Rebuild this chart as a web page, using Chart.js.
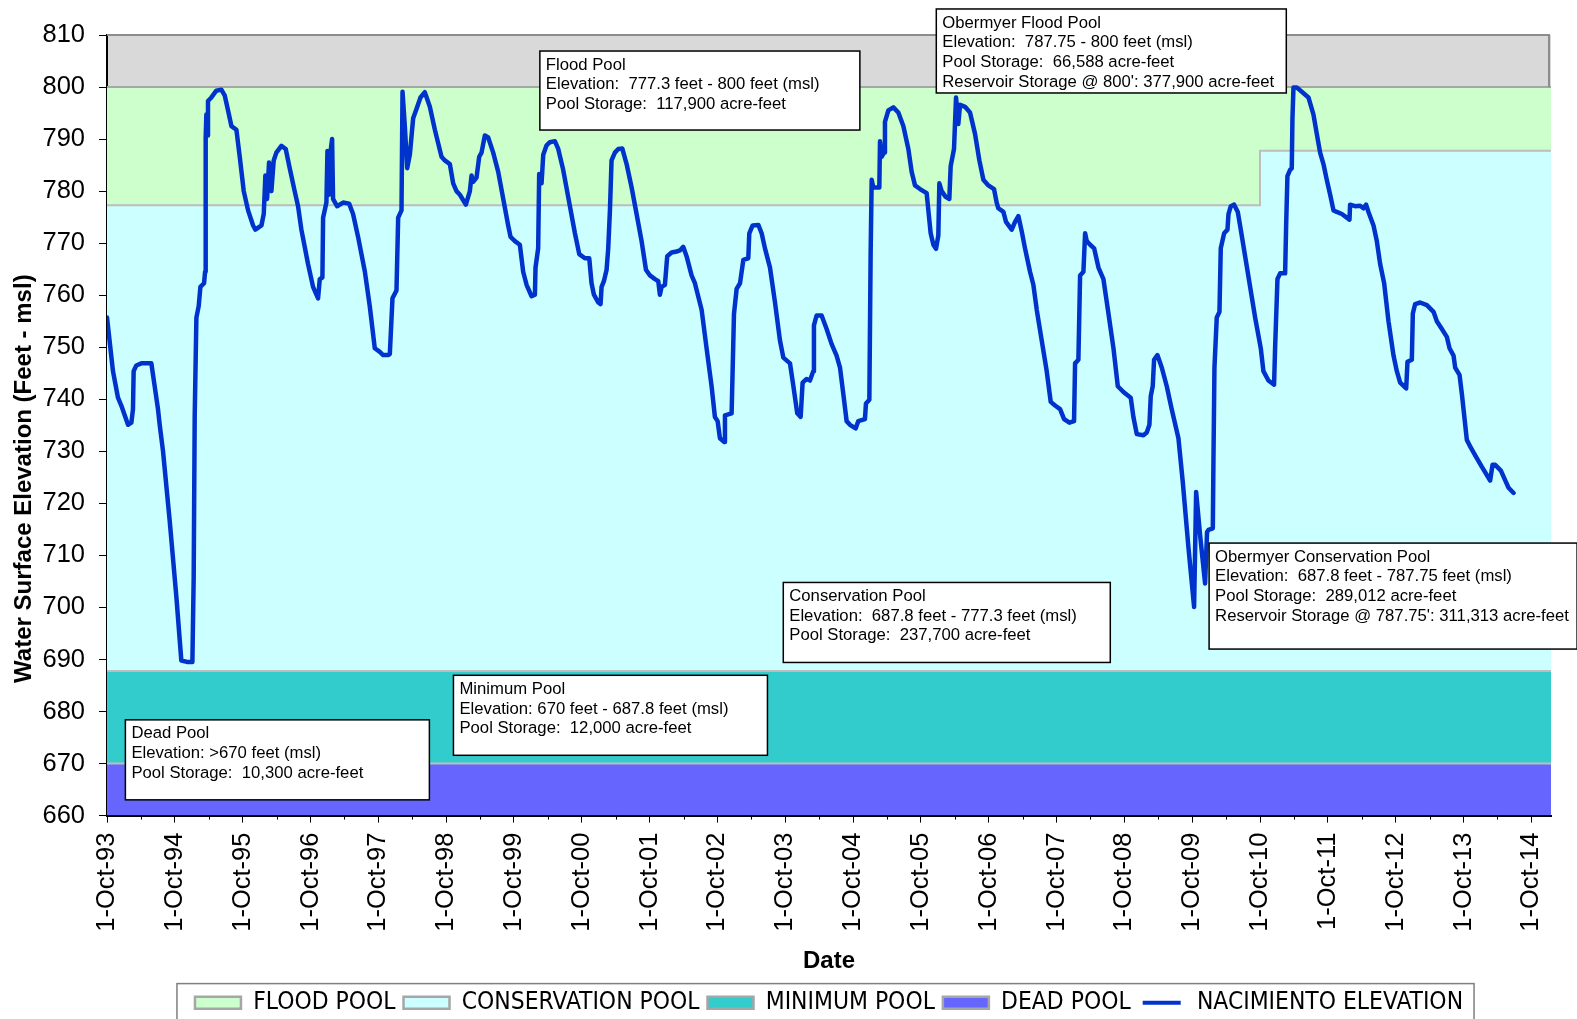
<!DOCTYPE html>
<html>
<head>
<meta charset="utf-8">
<title>Nacimiento Reservoir Elevation</title>
<script src="https://cdn.jsdelivr.net/npm/chart.js@4.4.1/dist/chart.umd.min.js"></script>
<style>
  html, body { margin: 0; padding: 0; background: #fff; }
  canvas { display: block; }
</style>
</head>
<body>
<canvas id="chart" width="1577" height="1019"></canvas>
<script>
// elevation record, x = years since 1-Oct-93
const elevYears = [
  0, 0.088, 0.162, 0.211, 0.31, 0.359, 0.383, 0.393, 0.432, 0.506, 0.654, 0.703, 0.752, 0.777, 0.826, 0.924,
  1.023, 1.096, 1.195, 1.259, 1.278, 1.293, 1.318, 1.352, 1.377, 1.431, 1.446, 1.455, 1.465, 1.475, 1.489, 1.539,
  1.612, 1.686, 1.735, 1.785, 1.834, 1.908, 1.957, 2.016, 2.08, 2.154, 2.188, 2.277, 2.311, 2.335, 2.36, 2.389,
  2.424, 2.458, 2.497, 2.571, 2.635, 2.694, 2.767, 2.817, 2.866, 2.964, 3.038, 3.112, 3.137, 3.176, 3.186, 3.235,
  3.25, 3.274, 3.294, 3.319, 3.333, 3.392, 3.481, 3.57, 3.628, 3.702, 3.801, 3.874, 3.948, 4.022, 4.071, 4.145,
  4.17, 4.209, 4.268, 4.293, 4.342, 4.357, 4.391, 4.426, 4.465, 4.514, 4.563, 4.622, 4.686, 4.76, 4.834, 4.932,
  4.981, 5.055, 5.104, 5.153, 5.203, 5.291, 5.35, 5.375, 5.399, 5.448, 5.488, 5.522, 5.571, 5.62, 5.694, 5.768,
  5.842, 5.915, 5.95, 6.014, 6.087, 6.136, 6.186, 6.26, 6.309, 6.318, 6.357, 6.372, 6.407, 6.432, 6.481, 6.53,
  6.603, 6.653, 6.726, 6.825, 6.899, 6.963, 7.046, 7.11, 7.144, 7.179, 7.243, 7.277, 7.292, 7.326, 7.366, 7.39,
  7.415, 7.439, 7.488, 7.538, 7.597, 7.661, 7.735, 7.808, 7.882, 7.946, 8.005, 8.079, 8.128, 8.152, 8.177, 8.226,
  8.26, 8.324, 8.398, 8.447, 8.496, 8.545, 8.619, 8.668, 8.767, 8.84, 8.914, 8.963, 9.003, 9.037, 9.101, 9.111,
  9.209, 9.224, 9.244, 9.283, 9.333, 9.382, 9.455, 9.47, 9.519, 9.603, 9.652, 9.701, 9.775, 9.849, 9.922, 9.972,
  10.07, 10.12, 10.177, 10.227, 10.256, 10.315, 10.364, 10.413, 10.423, 10.462, 10.536, 10.61, 10.684, 10.757, 10.807, 10.856,
  10.905, 10.954, 11.038, 11.077, 11.175, 11.19, 11.24, 11.259, 11.274, 11.298, 11.387, 11.397, 11.421, 11.456, 11.47, 11.52,
  11.594, 11.667, 11.741, 11.815, 11.864, 11.913, 11.987, 12.085, 12.11, 12.144, 12.184, 12.223, 12.257, 12.272, 12.306, 12.365,
  12.419, 12.439, 12.488, 12.518, 12.552, 12.577, 12.651, 12.724, 12.798, 12.862, 12.921, 12.995, 13.078, 13.117, 13.142, 13.216,
  13.255, 13.339, 13.388, 13.437, 13.486, 13.535, 13.609, 13.658, 13.708, 13.781, 13.855, 13.914, 13.978, 14.052, 14.111, 14.19,
  14.258, 14.273, 14.322, 14.347, 14.396, 14.421, 14.445, 14.495, 14.554, 14.618, 14.691, 14.765, 14.839, 14.903, 14.986, 15.094,
  15.133, 15.183, 15.281, 15.33, 15.369, 15.389, 15.418, 15.438, 15.487, 15.551, 15.625, 15.698, 15.797, 15.861, 15.944, 16.028,
  16.058, 16.117, 16.19, 16.219, 16.24, 16.304, 16.313, 16.328, 16.362, 16.402, 16.421, 16.471, 16.52, 16.535, 16.569, 16.618,
  16.672, 16.716, 16.78, 16.854, 16.928, 17.011, 17.05, 17.124, 17.207, 17.222, 17.257, 17.296, 17.37, 17.385, 17.404, 17.443,
  17.468, 17.478, 17.493, 17.542, 17.616, 17.714, 17.788, 17.837, 17.886, 17.935, 17.984, 18.034, 18.083, 18.132, 18.206, 18.279,
  18.319, 18.328, 18.402, 18.476, 18.525, 18.564, 18.599, 18.673, 18.722, 18.771, 18.83, 18.894, 18.968, 19.017, 19.066, 19.155,
  19.174, 19.238, 19.253, 19.287, 19.361, 19.46, 19.558, 19.607, 19.681, 19.754, 19.794, 19.853, 19.877, 19.941, 19.976, 20.025,
  20.049, 20.108, 20.187, 20.271, 20.393, 20.428, 20.467, 20.551, 20.615, 20.664, 20.738
];
const elevFeet = [
  755.7, 745.4, 740.3, 738.8, 735.1, 735.5, 738.1, 745.4, 746.5, 746.9, 746.9, 742.5, 738.1, 735.1, 730, 716.7,
  702, 689.8, 689.5, 689.5, 705.7, 736.6, 755.7, 757.9, 761.6, 762.3, 764.5, 790.3, 794.7, 790.7, 797.3, 798.0,
  799.3, 799.5, 798.4, 795.5, 792.5, 791.8, 786.6, 780, 776.3, 773.4, 772.6, 773.4, 775.6, 783, 778.5, 785.5,
  780, 785.9, 787.4, 788.7, 788.1, 784.4, 780, 777.1, 772.6, 766, 761.6, 759.4, 763.1, 763.4, 774.9, 777.8,
  787.7, 779.3, 787.4, 790, 778.5, 777.1, 777.8, 777.6, 775.6, 771.2, 764.6, 757.9, 749.8, 749.1, 748.5, 748.5,
  748.7, 759.4, 760.9, 774.9, 776.3, 799.1, 792.5, 784.4, 787, 794, 795.8, 798.0, 799, 796.2, 791.8, 786.6,
  785.9, 785.2, 781.5, 780, 779.3, 777.4, 780, 783, 781.8, 782.6, 786.6, 787.4, 790.7, 790.3, 787.4, 783.7,
  778.5, 773.4, 771.2, 770.4, 769.7, 764.5, 762, 759.8, 760.1, 765.3, 769, 783.3, 781.5, 787, 788.8, 789.4,
  789.6, 788.1, 784.1, 777.1, 771.9, 767.9, 767.1, 767.1, 762.3, 760.1, 758.6, 758.3, 761.6, 762.7, 764.9, 769,
  776.3, 785.9, 787.4, 788.1, 788.2, 785.2, 780.7, 775.6, 770.4, 764.9, 763.8, 763.1, 762.7, 760.1, 761.6, 762,
  767.5, 768.2, 768.4, 768.6, 769.3, 767.5, 763.8, 762.3, 757.2, 749.8, 742.5, 736.6, 735.8, 732.5, 731.8, 736.9,
  737.3, 745.4, 756.4, 761.2, 762.3, 766.8, 767.1, 771.9, 773.4, 773.5, 771.9, 769, 765.3, 758.6, 751.3, 748,
  746.9, 742.5, 737.3, 736.6, 743.2, 743.9, 743.6, 745.4, 754.2, 756.1, 756.1, 753.5, 750.6, 748.4, 746.1, 741,
  735.8, 735.1, 734.4, 735.8, 736.2, 739.2, 739.9, 768.2, 782.2, 780.7, 780.7, 789.6, 786.6, 787.4, 793.3, 795.5,
  796.1, 795.1, 792.5, 788.1, 783.7, 781.1, 780.4, 779.6, 776.3, 771.9, 769.7, 768.9, 771.5, 781.5, 780, 778.9,
  778.5, 784.8, 788.1, 798, 792.9, 796.6, 796.2, 795.1, 791, 785.9, 782.2, 781.1, 780.4, 777.8, 776.7, 776,
  774.1, 772.6, 774.1, 775.2, 772.3, 769, 764.5, 762, 757.2, 751.3, 745.4, 739.5, 738.8, 738.1, 736.2, 735.5,
  735.8, 746.9, 747.6, 763.8, 764.5, 771.9, 770.4, 769.7, 769, 765.3, 763.1, 756.5, 749.8, 742.5, 741.4, 740.3,
  736.6, 733.3, 733.1, 733.6, 735.1, 740.6, 742.5, 747.6, 748.5, 746.1, 742.5, 738.1, 732.5, 724.1, 711.6, 700.1,
  722.2, 713.8, 704.6, 714.5, 714.9, 715.2, 727.8, 746.1, 755.7, 756.8, 769, 771.9, 772.6, 775.6, 777.1, 777.4,
  776, 772.6, 767.5, 761.6, 755.7, 749.8, 745.4, 743.6, 742.8, 749.8, 763.1, 764.2, 764.2, 773.4, 782.9, 784.1,
  784.4, 794, 799.9, 799.9, 799.1, 798, 794.7, 791, 787.4, 785.2, 782.2, 779.3, 776.3, 776, 775.6, 774.9,
  774.5, 777.4, 777.1, 777.2, 776.7, 777.4, 776, 773.4, 770.4, 766, 762.3, 755, 748.4, 745.4, 743.2, 742.1,
  747.2, 747.6, 756.5, 758.3, 758.6, 758.1, 756.8, 755, 753.5, 752, 749.8, 748.4, 746.1, 744.7, 741, 735.1,
  732.2, 730.7, 728.9, 727, 724.4, 727.4, 727.4, 726.3, 724.4, 723, 722
];

const xTickLabels = ['1-Oct-93', '1-Oct-94', '1-Oct-95', '1-Oct-96', '1-Oct-97', '1-Oct-98', '1-Oct-99',
  '1-Oct-00', '1-Oct-01', '1-Oct-02', '1-Oct-03', '1-Oct-04', '1-Oct-05', '1-Oct-06', '1-Oct-07',
  '1-Oct-08', '1-Oct-09', '1-Oct-10', '1-Oct-11', '1-Oct-12', '1-Oct-13', '1-Oct-14'];
const xMaxYears = 21.29;

// pool limits (feet msl); conservation top raised to 787.75 from Oct-10 (Obermyer gates)
const poolYears = [0, 17, 17, 21.29];
const floodTop = [800, 800, 800, 800];
const conservationTop = [777.3, 777.3, 787.75, 787.75];
const minimumTop = [687.8, 687.8, 687.8, 687.8];
const deadTop = [670, 670, 670, 670];

const poolNames = ['FLOOD POOL', 'CONSERVATION POOL', 'MINIMUM POOL', 'DEAD POOL'];
const poolColors = ['#CCFFCC', '#CCFFFF', '#33CCCC', '#6666FF'];
const lineName = 'NACIMIENTO ELEVATION';

// text boxes, anchored at top-left in axis units
const notes = [
  {x: 6.382, y: 806.92, w: 320, h: 79, lines: ['Flood Pool', 'Elevation:  777.3 feet - 800 feet (msl)', 'Pool Storage:  117,900 acre-feet']},
  {x: 12.227, y: 815.0, w: 350, h: 84, lines: ['Obermyer Flood Pool', 'Elevation:  787.75 - 800 feet (msl)', 'Pool Storage:  66,588 acre-feet', "Reservoir Storage @ 800': 377,900 acre-feet"]},
  {x: 9.971, y: 704.8, w: 327, h: 80, lines: ['Conservation Pool', 'Elevation:  687.8 feet - 777.3 feet (msl)', 'Pool Storage:  237,700 acre-feet']},
  {x: 16.249, y: 712.37, w: 368, h: 106, lines: ['Obermyer Conservation Pool', 'Elevation:  687.8 feet - 787.75 feet (msl)', 'Pool Storage:  289,012 acre-feet', "Reservoir Storage @ 787.75': 311,313 acre-feet"]},
  {x: 5.108, y: 686.96, w: 314, h: 80, lines: ['Minimum Pool', 'Elevation: 670 feet - 687.8 feet (msl)', 'Pool Storage:  12,000 acre-feet']},
  {x: 0.271, y: 678.4, w: 304, h: 80, lines: ['Dead Pool', 'Elevation: >670 feet (msl)', 'Pool Storage:  10,300 acre-feet']}
];

function toPoints(xs, ys) {
  return xs.map((x, i) => ({x: x, y: ys[i]}));
}

Chart.defaults.font.family = '"Liberation Sans", Arial, sans-serif';
Chart.defaults.color = '#000';

const plotBackground = {
  id: 'plotBackground',
  beforeDraw(chart) {
    const a = chart.chartArea, ctx = chart.ctx;
    ctx.save();
    ctx.fillStyle = '#D9D9D9';
    ctx.fillRect(a.left, a.top, a.right - a.left, a.bottom - a.top);
    ctx.restore();
  }
};

const extras = {
  id: 'extras',
  afterDraw(chart) {
    const a = chart.chartArea, ctx = chart.ctx;
    const xs = chart.scales.x, ys = chart.scales.y;
    ctx.save();
    // top and right frame of the plot
    ctx.strokeStyle = '#8C8C8C';
    ctx.lineWidth = 2;
    ctx.beginPath();
    ctx.moveTo(a.left, a.top);
    ctx.lineTo(a.right - 2, a.top);
    ctx.lineTo(a.right - 2, ys.getPixelForValue(800));
    ctx.stroke();

    // half-year minor ticks
    ctx.strokeStyle = '#000';
    ctx.lineWidth = 1;
    for (let k = 0; k < xTickLabels.length - 1; k++) {
      const px = Math.round(xs.getPixelForValue(k + 0.5)) + 0.5;
      ctx.beginPath();
      ctx.moveTo(px, a.bottom);
      ctx.lineTo(px, a.bottom + 4);
      ctx.stroke();
    }

    // annotation boxes
    ctx.font = '16.7px "Liberation Sans", Arial, sans-serif';
    ctx.textBaseline = 'middle';
    ctx.textAlign = 'left';
    notes.forEach(n => {
      const left = xs.getPixelForValue(n.x), top = ys.getPixelForValue(n.y);
      ctx.fillStyle = '#fff';
      ctx.fillRect(left, top, n.w, n.h);
      ctx.strokeStyle = '#000';
      ctx.lineWidth = 1.5;
      ctx.strokeRect(left, top, n.w, n.h);
      ctx.fillStyle = '#000';
      n.lines.forEach((t, i) => ctx.fillText(t, left + 6, top + 14 + i * 19.7));
    });

    // legend frame
    const hb = chart.legend.legendHitBoxes;
    if (hb && hb.length) {
      const l = hb[0].left - 18;
      const r = hb[hb.length - 1].left + hb[hb.length - 1].width + 11;
      ctx.strokeStyle = '#7F7F7F';
      ctx.lineWidth = 1.5;
      ctx.strokeRect(l, chart.legend.top + 1, r - l, chart.height);
    }
    ctx.restore();
  }
};

const tops = [floodTop, conservationTop, minimumTop, deadTop];
const poolSets = tops.map((vals, i) => ({
  label: poolNames[i],
  data: toPoints(poolYears, vals),
  backgroundColor: poolColors[i],
  borderColor: i === 0 ? '#A6A6A6' : '#BDBDBD',
  borderWidth: 2,
  fill: i < 3 ? i + 1 : 'start',
  order: 1
}));

const elevationSet = {
  label: lineName,
  data: toPoints(elevYears, elevFeet),
  borderColor: '#0033CC',
  backgroundColor: '#0033CC',
  borderWidth: 4.5,
  borderJoinStyle: 'round',
  borderCapStyle: 'round',
  fill: false,
  order: 0
};

new Chart(document.getElementById('chart'), {
  type: 'line',
  data: { datasets: poolSets.concat([elevationSet]) },
  options: {
    responsive: false,
    animation: false,
    layout: { padding: { top: 35, right: 26, bottom: -6, left: 0 } },
    elements: { point: { radius: 0 }, line: { tension: 0 } },
    plugins: {
      tooltip: { enabled: false },
      filler: { drawTime: 'beforeDatasetsDraw' },
      legend: {
        position: 'bottom',
        fullSize: false,
        labels: {
          boxWidth: 46,
          boxHeight: 12,
          padding: 8,
          color: '#000',
          font: { family: '"Liberation Sans Narrow", "DejaVu Sans Condensed", "Liberation Sans", sans-serif', size: 24.4 },
          sort: (a, b) => a.datasetIndex - b.datasetIndex,
          generateLabels: chart => chart.data.datasets.map((ds, i) => {
            const isLine = ds.fill === false;
            return {
              text: ds.label,
              datasetIndex: i,
              fillStyle: isLine ? ds.borderColor : ds.backgroundColor,
              strokeStyle: isLine ? '#FFFFFF' : '#A6A6A6',
              lineWidth: isLine ? 8 : 2.5,
              fontColor: '#000',
              hidden: false
            };
          })
        }
      }
    },
    scales: {
      x: {
        type: 'linear',
        min: 0,
        max: xMaxYears,
        border: { color: '#000', width: 2 },
        grid: { drawOnChartArea: false, drawTicks: true, tickLength: 7, tickColor: '#000', tickWidth: 1 },
        ticks: {
          stepSize: 1,
          includeBounds: false,
          autoSkip: false,
          minRotation: 90,
          maxRotation: 90,
          padding: 10,
          color: '#000',
          font: { size: 25.5 },
          callback: v => xTickLabels[v] !== undefined ? xTickLabels[v] : ''
        },
        title: { display: true, text: 'Date', color: '#000', font: { size: 24, weight: 'bold' }, padding: { top: 0, bottom: 7 } },
        afterFit: s => { s.height = 167; }
      },
      y: {
        min: 660,
        max: 810,
        border: { color: '#000', width: 2 },
        grid: { drawOnChartArea: false, drawTicks: true, tickLength: 8, tickColor: '#000', tickWidth: 1 },
        ticks: { stepSize: 10, padding: 14, color: '#000', font: { size: 25.5 } },
        title: {
          display: true,
          text: 'Water Surface Elevation (Feet - msl)' + ' '.repeat(16),
          color: '#000',
          font: { size: 24, weight: 'bold' },
          padding: { top: 10, bottom: 0 }
        },
        afterFit: s => { s.width = 107; }
      }
    }
  },
  plugins: [plotBackground, extras]
});
</script>
</body>
</html>
